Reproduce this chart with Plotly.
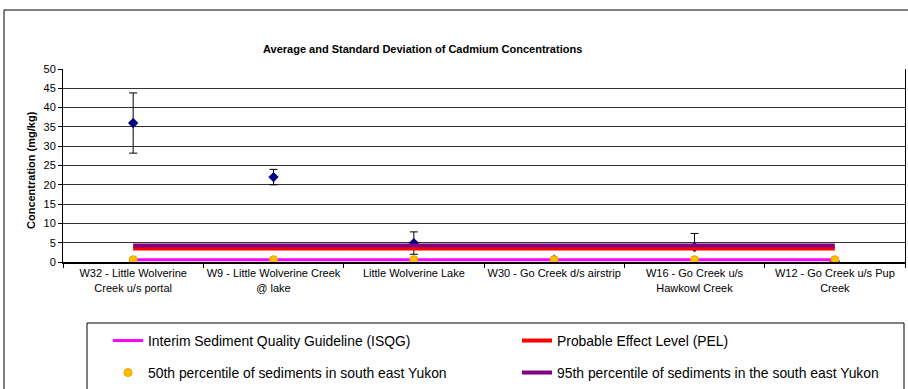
import plotly.graph_objects as go

# ---- data ----
sites = [
    "W32 - Little Wolverine<br>Creek u/s portal",
    "W9 - Little Wolverine Creek<br>@ lake",
    "Little Wolverine Lake",
    "W30 - Go Creek d/s airstrip",
    "W16 - Go Creek u/s<br>Hawkowl Creek",
    "W12 - Go Creek u/s Pup<br>Creek",
]
mean_cd = [36.0, 22.0, 4.9, 0.6, 3.9, 0.2]
sd_plus = [7.8, 2.0, 2.9, 0.0, 3.5, 0.0]
sd_minus = [7.8, 2.0, 2.9, 0.0, 0.5, 0.0]
isqg = [0.6, 0.6, 0.6, 0.6, 0.6, 0.6]
pel = [3.5, 3.5, 3.5, 3.5, 3.5, 3.5]
p50 = [0.6, 0.6, 0.6, 0.6, 0.6, 0.6]
p95 = [4.3, 4.3, 4.3, 4.3, 4.3, 4.3]
y_ticks = [0, 5, 10, 15, 20, 25, 30, 35, 40, 45, 50]

FONT = "Liberation Sans, Arial, sans-serif"

fig = go.Figure()

fig.add_trace(go.Scatter(
    x=sites, y=mean_cd, mode="markers", showlegend=False, name="Average",
    marker=dict(symbol="diamond", size=8, color="#000080"),
    error_y=dict(type="data", symmetric=False, array=sd_plus, arrayminus=sd_minus,
                 color="#000000", thickness=1, width=4),
))
fig.add_trace(go.Scatter(
    x=sites, y=isqg, mode="lines", name="Interim Sediment Quality Guideline (ISQG)",
    line=dict(color="#FF00FF", width=3), legend="legend",
))
fig.add_trace(go.Scatter(
    x=sites, y=pel, mode="lines", name="Probable Effect Level (PEL)",
    line=dict(color="#FF0000", width=4), legend="legend",
))
fig.add_trace(go.Scatter(
    x=sites, y=p95, mode="lines", name="95th percentile of sediments in the south east Yukon",
    line=dict(color="#800080", width=4), legend="legend2",
))
fig.add_trace(go.Scatter(
    x=sites, y=p50, mode="markers", name="50th percentile of sediments in south east Yukon",
    marker=dict(symbol="circle", size=8, color="#FFC000", line=dict(color="#F59A00", width=1)),
    legend="legend2",
))

W, H = 908, 389
L, R, T, B = 63, 3, 69, 127
pw, ph = W - L - R, H - T - B


def px(x):
    return (x - L) / pw


def py(y):
    return (H - B - y) / ph


fig.update_layout(
    width=W, height=H,
    margin=dict(l=L, r=R, t=T, b=B, autoexpand=False),
    paper_bgcolor="white", plot_bgcolor="white",
    font=dict(family=FONT, size=11, color="#000000"),
    legend=dict(orientation="h", x=px(108), xanchor="left", y=py(325), yanchor="top",
                font=dict(family=FONT, size=13.9), entrywidth=364, entrywidthmode="pixels",
                traceorder="normal", bgcolor="rgba(0,0,0,0)", itemwidth=30),
    legend2=dict(orientation="h", x=px(108), xanchor="left", y=py(357), yanchor="top",
                 font=dict(family=FONT, size=13.9), entrywidth=364, entrywidthmode="pixels",
                 traceorder="reversed", bgcolor="rgba(0,0,0,0)", itemwidth=30),
    xaxis=dict(type="category", range=[-0.5, 5.5], showline=True, linecolor="#000000", linewidth=2,
               ticks="outside", tickson="boundaries", ticklen=4, tickcolor="#000000",
               tickangle=0, showgrid=False, tickfont=dict(size=11), fixedrange=True),
    yaxis=dict(range=[0, 50], tickvals=y_ticks, showline=True, mirror=True,
               linecolor="#000000", linewidth=1, ticks="outside", ticklen=4,
               tickcolor="#000000", showgrid=True, gridcolor="#333333", gridwidth=1,
               zeroline=False, tickfont=dict(size=11), fixedrange=True),
    shapes=[
        dict(type="rect", xref="paper", yref="paper", x0=px(4), x1=px(912), y0=py(395), y1=py(10),
             line=dict(color="#000000", width=1), fillcolor="rgba(0,0,0,0)"),
        dict(type="rect", xref="paper", yref="paper", x0=px(87), x1=px(904), y0=py(395), y1=py(323),
             line=dict(color="#000000", width=1), fillcolor="rgba(0,0,0,0)"),
    ],
    annotations=[
        dict(text="<b>Average and Standard Deviation of Cadmium Concentrations</b>",
             xref="paper", yref="paper", x=px(422), y=py(49), xanchor="center", yanchor="middle",
             showarrow=False, font=dict(size=11, family=FONT)),
        dict(text="<b>Concentration (mg/kg)</b>", textangle=-90,
             xref="paper", yref="paper", x=px(31), y=py(170), xanchor="center", yanchor="middle",
             showarrow=False, font=dict(size=11, family=FONT)),
    ],
)

fig.write_html("out.html", config={"displayModeBar": False},
               post_script="document.body.style.margin='0';document.body.style.overflow='hidden';")
